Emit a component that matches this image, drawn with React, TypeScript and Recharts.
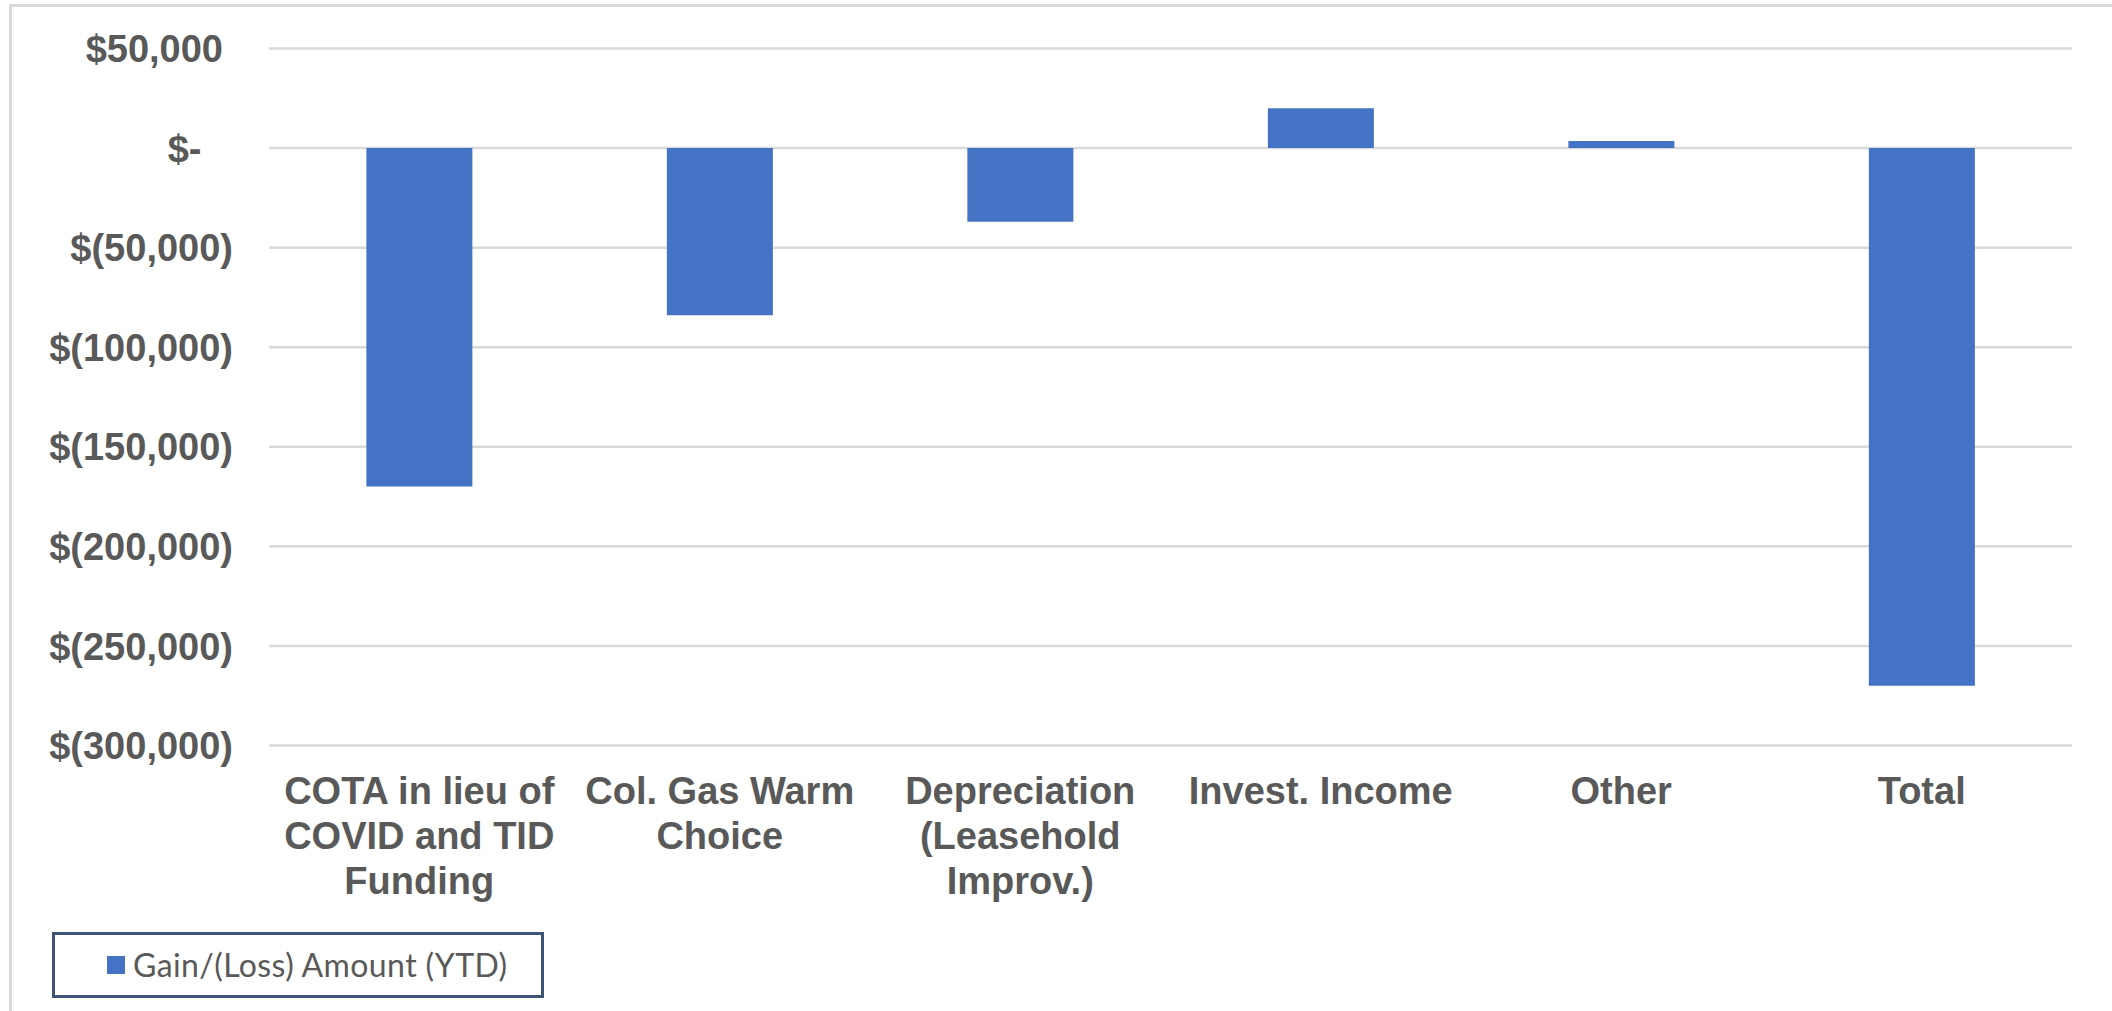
import React from "react";
import { BarChart, Bar, XAxis, YAxis, CartesianGrid, Legend } from "recharts";

const categories = [
  "COTA in lieu of\nCOVID and TID\nFunding",
  "Col. Gas Warm\nChoice",
  "Depreciation\n(Leasehold\nImprov.)",
  "Invest. Income",
  "Other",
  "Total",
];
const amounts = [-170000, -84000, -37000, 20000, 3500, -270000];
const seriesName = "Gain/(Loss) Amount (YTD)";
const yTicks = [-300000, -250000, -200000, -150000, -100000, -50000, 0, 50000];
const yTickLabels = [
  "$(300,000)",
  "$(250,000)",
  "$(200,000)",
  "$(150,000)",
  "$(100,000)",
  "$(50,000)",
  "$-",
  "$50,000",
];

const data = categories.map((c, i) => ({ name: c, value: amounts[i] }));

const FONT = '"Liberation Sans", Arial, sans-serif';
const TEXT = "#595959";
const BLUE = "#4472c4";

const XTick = (props: any) => {
  const { x, y, payload } = props;
  const lines = String(payload.value).split("\n");
  return (
    <text
      x={x}
      y={y}
      textAnchor="middle"
      fill={TEXT}
      fontFamily={FONT}
      fontSize={38}
      fontWeight="bold"
    >
      {lines.map((l, i) => (
        <tspan key={i} x={x} dy={i === 0 ? 58 : 45}>
          {l}
        </tspan>
      ))}
    </text>
  );
};

const YTick = (props: any) => {
  const { x, y, payload } = props;
  const v = payload.value as number;
  const idx = yTicks.indexOf(v);
  const label = idx >= 0 ? yTickLabels[idx] : String(v);
  const shift = v > 0 ? 10 : v === 0 ? 31.5 : 0;
  return (
    <text
      x={x - 36 - shift}
      y={y}
      dy="0.36em"
      textAnchor="end"
      fill={TEXT}
      fontFamily={FONT}
      fontSize={38}
      fontWeight="bold"
    >
      {label}
    </text>
  );
};

const LegendBox = (props: any) => {
  const item = (props.payload && props.payload[0]) || { value: seriesName, color: BLUE };
  return (
    <div
      style={{
        boxSizing: "border-box",
        width: 492,
        height: 66,
        border: "3px solid #3d5476",
        display: "flex",
        alignItems: "center",
        paddingLeft: 52,
        background: "#fff",
      }}
    >
      <div style={{ width: 18, height: 18, background: item.color || BLUE, marginRight: 8 }} />
      <span
        style={{
          fontFamily: "Lato, sans-serif",
          fontSize: 32,
          letterSpacing: 0.4,
          color: TEXT,
          lineHeight: 1,
        }}
      >
        {item.value}
      </span>
    </div>
  );
};

export default function App() {
  return (
    <div
      style={{
        position: "absolute",
        left: 0,
        top: 0,
        width: 2112,
        height: 1011,
        background: "#fff",
        overflow: "hidden",
      }}
    >
      <div
        style={{
          position: "absolute",
          left: 9,
          top: 4,
          width: 2110,
          height: 1010,
          borderTop: "3px solid #d9d9d9",
          borderLeft: "3px solid #d9d9d9",
        }}
      />
      <div style={{ position: "absolute", left: 0, top: 0 }}>
        <BarChart
          width={2112}
          height={1011}
          data={data}
          margin={{ top: 48.5, right: 40, bottom: 0, left: 0 }}
          barCategoryGap="32.4%"
        >
          <CartesianGrid horizontal vertical={false} stroke="#d9d9d9" strokeWidth={2.5} />
          <XAxis
            dataKey="name"
            axisLine={false}
            tickLine={false}
            tickSize={0}
            tickMargin={0}
            interval={0}
            height={265.5}
            tick={<XTick />}
          />
          <YAxis
            domain={[-300000, 50000]}
            ticks={yTicks}
            type="number"
            allowDataOverflow
            axisLine={false}
            tickLine={false}
            tickSize={0}
            tickMargin={0}
            width={269}
            interval={0}
            tick={<YTick />}
          />
          <Legend
            layout="vertical"
            align="center"
            verticalAlign="middle"
            wrapperStyle={{ position: "absolute", left: 52, top: 931.5, width: 492, height: 66 }}
            content={<LegendBox />}
          />
          <Bar dataKey="value" name={seriesName} fill={BLUE} isAnimationActive={false} />
        </BarChart>
      </div>
    </div>
  );
}
